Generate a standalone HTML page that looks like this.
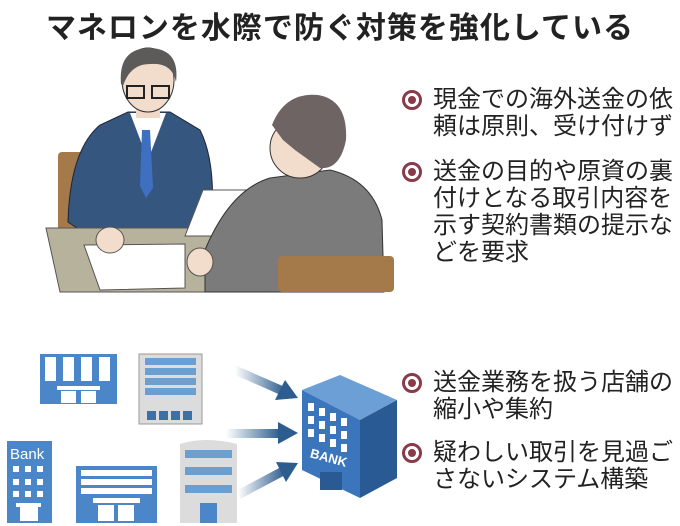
<!DOCTYPE html>
<html><head><meta charset="utf-8"><style>
html,body{margin:0;padding:0;background:#fff;}
body{width:680px;height:526px;position:relative;overflow:hidden;font-family:"Liberation Sans","Noto Sans CJK JP",sans-serif;}
.t{position:absolute;left:0;top:3px;width:680px;text-align:center;font-size:30px;font-weight:bold;color:#222;letter-spacing:1px;}
.b{position:absolute;left:402px;font-size:24px;line-height:27px;color:#222;}
.b .d{position:absolute;left:0;top:4px;width:14px;height:14px;border:3px solid #8a3a48;border-radius:50%;background:#fff;}
.b .d:after{content:"";position:absolute;left:3px;top:3px;width:8px;height:8px;border-radius:50%;background:#8a3a48;}
.b .x{margin-left:31px;}
</style></head><body>
<svg width="680" height="526" style="position:absolute;left:0;top:0">
<rect x="58" y="152" width="38" height="80" rx="4" fill="#a47a4a"/>
<path d="M68 222 Q70 150 100 125 L128 112 L170 112 L200 130 Q215 160 212 212 L200 230 L80 230 Z" fill="#35577f" stroke="#223" stroke-width="1"/>
<path d="M130 113 L148 160 L166 113 Z" fill="#fff"/>
<path d="M142 130 L150 130 L153 188 L146 198 L140 186 Z" fill="#3f6fc0"/>
<rect x="136" y="102" width="24" height="16" fill="#f0d8c6"/>
<ellipse cx="148" cy="80" rx="26" ry="32" fill="#f2dccb" stroke="#333" stroke-width="1"/>
<path d="M121 84 Q118 48 150 48 Q180 49 176 82 Q172 62 150 64 Q130 64 123 86 Z" fill="#5d5a5a"/>
<rect x="127" y="86" width="17" height="12" fill="none" stroke="#222" stroke-width="2"/>
<rect x="152" y="86" width="17" height="12" fill="none" stroke="#222" stroke-width="2"/>
<path d="M46 228 L250 228 L240 292 L60 292 Z" fill="#b7b29c" stroke="#555" stroke-width="1"/>
<path d="M84 245 L185 244 L185 288 L100 290 Z" fill="#fff" stroke="#555" stroke-width="1"/>
<ellipse cx="110" cy="240" rx="14" ry="13" fill="#f2dccb" stroke="#555" stroke-width="1"/>
<path d="M203 190 L250 190 L238 236 L185 236 Z" fill="#fff" stroke="#555" stroke-width="1"/>
<ellipse cx="237" cy="218" rx="10" ry="12" fill="#f2dccb" stroke="#555" stroke-width="1"/>
<path d="M205 292 L205 250 Q230 190 270 178 L330 170 Q372 180 382 220 L384 292 Z" fill="#7b7b7b" stroke="#333" stroke-width="1"/>
<ellipse cx="200" cy="262" rx="13" ry="14" fill="#f2dccb" stroke="#555" stroke-width="1"/>
<ellipse cx="300" cy="148" rx="30" ry="30" fill="#f2dccb" stroke="#333" stroke-width="1"/>
<path d="M272 125 Q285 92 318 95 Q348 100 346 140 Q340 170 320 168 L295 150 L283 140 Z" fill="#6e6464"/>
<rect x="278" y="256" width="116" height="36" rx="4" fill="#a47a4a"/>
<rect x="40" y="354" width="77" height="50" fill="#4a86c8"/>
<g fill="#fff"><rect x="45" y="357" width="11" height="24"/><rect x="63" y="357" width="11" height="24"/><rect x="81" y="357" width="11" height="24"/><rect x="99" y="357" width="11" height="24"/><rect x="57" y="386" width="43" height="4"/><rect x="61" y="391" width="15" height="12"/><rect x="81" y="391" width="15" height="12"/></g>
<rect x="139" y="354" width="63" height="70" fill="#dcdcdc" stroke="#999"/>
<g fill="#6a9fd0"><rect x="145" y="358" width="51" height="7"/><rect x="145" y="368" width="51" height="7"/><rect x="145" y="378" width="51" height="7"/><rect x="145" y="388" width="51" height="7"/></g>
<g fill="#3e70a8"><rect x="147" y="411" width="9" height="9"/><rect x="159" y="411" width="9" height="9"/><rect x="171" y="411" width="9" height="9"/><rect x="183" y="411" width="9" height="9"/></g>
<rect x="7" y="441" width="45" height="82" fill="#4a86c8"/>
<text x="10" y="459" font-family="Liberation Sans" font-size="15" fill="#fff">Bank</text>
<g fill="#fff"><rect x="13" y="466" width="6" height="6"/><rect x="25" y="466" width="6" height="6"/><rect x="37" y="466" width="6" height="6"/><rect x="13" y="479" width="6" height="6"/><rect x="25" y="479" width="6" height="6"/><rect x="37" y="479" width="6" height="6"/><rect x="13" y="491" width="6" height="6"/><rect x="25" y="491" width="6" height="6"/><rect x="37" y="491" width="6" height="6"/><rect x="16" y="503" width="25" height="4"/><rect x="20" y="507" width="18" height="14"/></g>
<rect x="76" y="466" width="81" height="57" fill="#4a86c8"/>
<g fill="#fff"><rect x="81" y="470" width="71" height="6"/><rect x="81" y="479" width="71" height="6"/><rect x="81" y="488" width="71" height="6"/><rect x="93" y="498" width="47" height="5"/><rect x="98" y="505" width="16" height="16"/><rect x="118" y="505" width="16" height="16"/></g>
<path d="M180 444 Q205 436 237 444 L237 523 L180 523 Z" fill="#dcdcdc"/>
<g fill="#6a9fd0"><rect x="185" y="450" width="47" height="8"/><rect x="185" y="467" width="47" height="8"/><rect x="185" y="485" width="47" height="8"/></g>
<rect x="200" y="503" width="17" height="20" fill="#4a86c8"/>
<defs><linearGradient id="g" x1="0" x2="1"><stop offset="0" stop-color="#2d5d8f" stop-opacity="0"/><stop offset="1" stop-color="#2d5d8f"/></linearGradient></defs>
<path d="M235 370 L285 392" stroke="url(#g)" stroke-width="9"/>
<polygon points="298,398 275,400 285,380" fill="#2d5d8f"/>
<rect x="226" y="429" width="54" height="9" fill="url(#g)"/>
<polygon points="298,433 278,422 278,444" fill="#2d5d8f"/>
<path d="M238 495 L285 470" stroke="url(#g)" stroke-width="9"/>
<polygon points="298,463 276,462 286,482" fill="#2d5d8f"/>
<polygon points="302,390 340,375 397,400 360,420" fill="#6b9fd6"/>
<polygon points="302,390 360,420 360,498 302,470" fill="#3b76bc"/>
<polygon points="360,420 397,400 397,478 360,498" fill="#2a5a93"/>
<g fill="#fff"><rect x="308" y="403" width="6" height="8"/><rect x="319" y="408" width="6" height="8"/><rect x="330" y="413" width="6" height="8"/><rect x="341" y="418" width="6" height="8"/><rect x="308" y="416" width="6" height="8"/><rect x="319" y="421" width="6" height="8"/><rect x="330" y="426" width="6" height="8"/><rect x="341" y="431" width="6" height="8"/><rect x="308" y="429" width="6" height="8"/><rect x="319" y="434" width="6" height="8"/><rect x="330" y="439" width="6" height="8"/><rect x="341" y="444" width="6" height="8"/></g>
<text x="309" y="460" font-family="Liberation Sans" font-size="13" font-weight="bold" fill="#fff" transform="rotate(15 320 460)">BANK</text>
<rect x="320" y="472" width="22" height="18" fill="#2a5a93"/>
</svg>
<div class="t">マネロンを水際で防ぐ対策を強化している</div>
<div class="b" style="top:86px"><span class="d"></span><div class="x">現金での海外送金の依<br>頼は原則、受け付けず</div></div>
<div class="b" style="top:158px"><span class="d"></span><div class="x">送金の目的や原資の裏<br>付けとなる取引内容を<br>示す契約書類の提示な<br>どを要求</div></div>
<div class="b" style="top:369px"><span class="d"></span><div class="x">送金業務を扱う店舗の<br>縮小や集約</div></div>
<div class="b" style="top:439px"><span class="d"></span><div class="x">疑わしい取引を見過ご<br>さないシステム構築</div></div>
</body></html>
